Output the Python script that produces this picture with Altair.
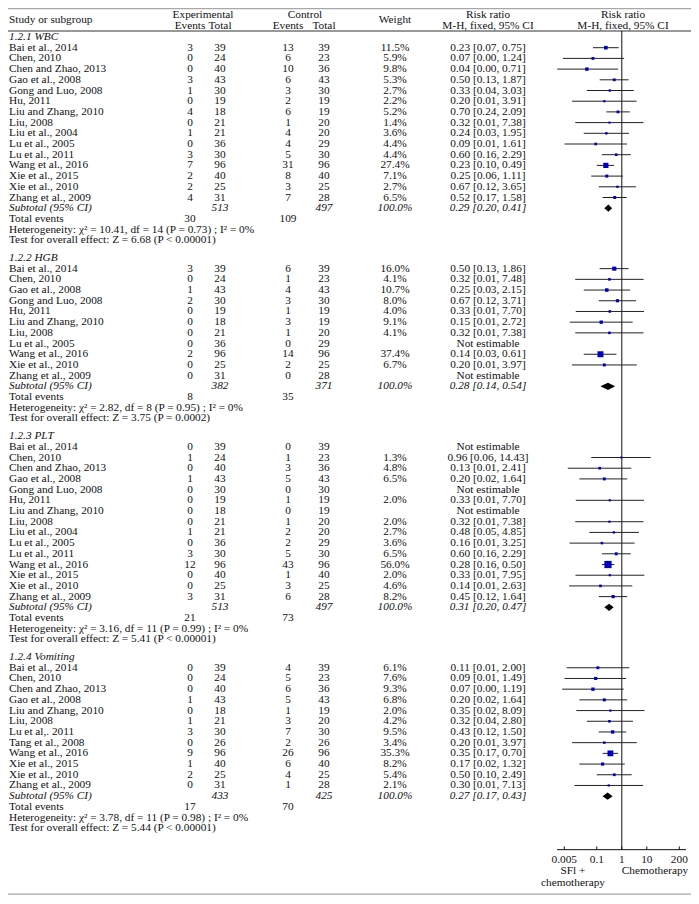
import altair as alt
import pandas as pd

# ------------------------------------------------------------------ data
wbc_names = ["Bai et al., 2014", "Chen, 2010", "Chen and Zhao, 2013", "Gao et al., 2008",
             "Gong and Luo, 2008", "Hu, 2011", "Liu and Zhang, 2010", "Liu, 2008",
             "Liu et al., 2004", "Lu et al., 2005", "Lu et al., 2011", "Wang et al., 2016",
             "Xie et al., 2015", "Xie et al., 2010", "Zhang et al., 2009"]
wbc_e_ev = [3, 0, 0, 3, 1, 0, 4, 0, 1, 0, 3, 7, 2, 2, 4]
wbc_e_tot = [39, 24, 40, 43, 30, 19, 18, 21, 21, 36, 30, 96, 40, 25, 31]
wbc_c_ev = [13, 6, 10, 6, 3, 2, 6, 1, 4, 4, 5, 31, 8, 3, 7]
wbc_c_tot = [39, 23, 36, 43, 30, 19, 19, 20, 20, 29, 30, 96, 40, 25, 28]
wbc_w = [11.5, 5.9, 9.8, 5.3, 2.7, 2.2, 5.2, 1.4, 3.6, 4.4, 4.4, 27.4, 7.1, 2.7, 6.5]
wbc_rr = [0.23, 0.07, 0.04, 0.50, 0.33, 0.20, 0.70, 0.32, 0.24, 0.09, 0.60, 0.23, 0.25, 0.67, 0.52]
wbc_lo = [0.07, 0.0044, 0.0026, 0.13, 0.04, 0.0102, 0.24, 0.0137, 0.03, 0.0051, 0.16, 0.10, 0.06, 0.12, 0.17]
wbc_hi = [0.75, 1.24, 0.71, 1.87, 3.03, 3.91, 2.09, 7.38, 1.95, 1.61, 2.29, 0.49, 1.11, 3.65, 1.58]

hgb_names = ["Bai et al., 2014", "Chen, 2010", "Gao et al., 2008", "Gong and Luo, 2008",
             "Hu, 2011", "Liu and Zhang, 2010", "Liu, 2008", "Lu et al., 2005",
             "Wang et al., 2016", "Xie et al., 2010", "Zhang et al., 2009"]
hgb_e_ev = [3, 0, 1, 2, 0, 0, 0, 0, 2, 0, 0]
hgb_e_tot = [39, 24, 43, 30, 19, 18, 21, 36, 96, 25, 31]
hgb_c_ev = [6, 1, 4, 3, 1, 3, 1, 0, 14, 2, 0]
hgb_c_tot = [39, 23, 43, 30, 19, 19, 20, 29, 96, 25, 28]
hgb_w = [16.0, 4.1, 10.7, 8.0, 4.0, 9.1, 4.1, None, 37.4, 6.7, None]
hgb_rr = [0.50, 0.32, 0.25, 0.67, 0.33, 0.15, 0.32, None, 0.14, 0.20, None]
hgb_lo = [0.13, 0.0137, 0.03, 0.12, 0.0144, 0.0083, 0.0137, None, 0.03, 0.0101, None]
hgb_hi = [1.86, 7.48, 2.15, 3.71, 7.70, 2.72, 7.38, None, 0.61, 3.97, None]

plt_names = ["Bai et al., 2014", "Chen, 2010", "Chen and Zhao, 2013", "Gao et al., 2008",
             "Gong and Luo, 2008", "Hu, 2011", "Liu and Zhang, 2010", "Liu, 2008",
             "Liu et al., 2004", "Lu et al., 2005", "Lu et al., 2011", "Wang et al., 2016",
             "Xie et al., 2015", "Xie et al., 2010", "Zhang et al., 2009"]
plt_e_ev = [0, 1, 0, 1, 0, 0, 0, 0, 1, 0, 3, 12, 0, 0, 3]
plt_e_tot = [39, 24, 40, 43, 30, 19, 18, 21, 21, 36, 30, 96, 40, 25, 31]
plt_c_ev = [0, 1, 3, 5, 0, 1, 0, 1, 2, 2, 5, 43, 1, 3, 6]
plt_c_tot = [39, 23, 36, 43, 30, 19, 19, 20, 20, 29, 30, 96, 40, 25, 28]
plt_w = [None, 1.3, 4.8, 6.5, None, 2.0, None, 2.0, 2.7, 3.6, 6.5, 56.0, 2.0, 4.6, 8.2]
plt_rr = [None, 0.96, 0.13, 0.20, None, 0.33, None, 0.32, 0.48, 0.16, 0.60, 0.28, 0.33, 0.14, 0.45]
plt_lo = [None, 0.06, 0.0069, 0.02, None, 0.0144, None, 0.0137, 0.05, 0.0081, 0.16, 0.16, 0.014, 0.0078, 0.12]
plt_hi = [None, 14.43, 2.41, 1.64, None, 7.70, None, 7.38, 4.85, 3.25, 2.29, 0.50, 7.95, 2.63, 1.64]

vom_names = ["Bai et al., 2014", "Chen, 2010", "Chen and Zhao, 2013", "Gao et al., 2008",
             "Liu and Zhang, 2010", "Liu, 2008", "Lu et al,. 2011", "Tang et al., 2008",
             "Wang et al., 2016", "Xie et al., 2015", "Xie et al., 2010", "Zhang et al., 2009"]
vom_e_ev = [0, 0, 0, 1, 0, 1, 3, 0, 9, 1, 2, 0]
vom_e_tot = [39, 24, 40, 43, 18, 21, 30, 26, 96, 40, 25, 31]
vom_c_ev = [4, 5, 6, 5, 1, 3, 7, 2, 26, 6, 4, 1]
vom_c_tot = [39, 23, 36, 43, 19, 20, 30, 26, 96, 40, 25, 28]
vom_w = [6.1, 7.6, 9.3, 6.8, 2.0, 4.2, 9.5, 3.4, 35.3, 8.2, 5.4, 2.1]
vom_rr = [0.11, 0.09, 0.07, 0.20, 0.35, 0.32, 0.43, 0.20, 0.35, 0.17, 0.50, 0.30]
vom_lo = [0.0062, 0.0051, 0.0041, 0.02, 0.0152, 0.04, 0.12, 0.0101, 0.17, 0.02, 0.10, 0.0128]
vom_hi = [2.00, 1.49, 1.19, 1.64, 8.09, 2.80, 1.50, 3.97, 0.70, 1.32, 2.49, 7.13]

sub_titles = ["1.2.1 WBC", "1.2.2 HGB", "1.2.3 PLT", "1.2.4 Vomiting"]
sub_e_tot = [513, 382, 513, 433]
sub_c_tot = [497, 371, 497, 425]
sub_rr = [0.29, 0.28, 0.31, 0.27]
sub_lo = [0.20, 0.14, 0.20, 0.17]
sub_hi = [0.41, 0.54, 0.47, 0.43]
tot_e = [30, 8, 21, 17]
tot_c = [109, 35, 73, 70]
het_chi = ["10.41", "2.82", "3.16", "3.78"]
het_df = [14, 8, 11, 11]
het_p = ["0.73", "0.95", "0.99", "0.98"]
het_i2 = ["0%", "0%", "0%", "0%"]
test_z = ["6.68", "3.75", "5.41", "5.44"]
test_p = ["< 0.00001", "= 0.0002", "< 0.00001", "< 0.00001"]

axis_ticks = [0.005, 0.1, 1, 10, 200]
axis_labels = ["0.005", "0.1", "1", "10", "200"]

sections = [
    (wbc_names, wbc_e_ev, wbc_e_tot, wbc_c_ev, wbc_c_tot, wbc_w, wbc_rr, wbc_lo, wbc_hi),
    (hgb_names, hgb_e_ev, hgb_e_tot, hgb_c_ev, hgb_c_tot, hgb_w, hgb_rr, hgb_lo, hgb_hi),
    (plt_names, plt_e_ev, plt_e_tot, plt_c_ev, plt_c_tot, plt_w, plt_rr, plt_lo, plt_hi),
    (vom_names, vom_e_ev, vom_e_tot, vom_c_ev, vom_c_tot, vom_w, vom_rr, vom_lo, vom_hi),
]

# ------------------------------------------------------------------ layout (row units)
ROW_PX = 10.7
SECTION_GAP = 1.65
texts = []      # dicts: u, col, text, it
cis = []        # u, lo, hi, rr, w
diam = []       # g, x, ya, yb


def fmt_ci(r, l, h):
    return f"{r:.2f} [{l:.2f}, {h:.2f}]"


u = 0.0
for k, sec in enumerate(sections):
    names, e_ev, e_tot, c_ev, c_tot, w, rr, lo, hi = sec
    texts.append(dict(u=u, col="name", text=sub_titles[k], it=True))
    for i in range(len(names)):
        u += 1
        texts.append(dict(u=u, col="name", text=names[i], it=False))
        texts.append(dict(u=u, col="e_ev", text=str(e_ev[i]), it=False))
        texts.append(dict(u=u, col="e_tot", text=str(e_tot[i]), it=False))
        texts.append(dict(u=u, col="c_ev", text=str(c_ev[i]), it=False))
        texts.append(dict(u=u, col="c_tot", text=str(c_tot[i]), it=False))
        if rr[i] is None:
            texts.append(dict(u=u, col="rr", text="Not estimable", it=False))
        else:
            texts.append(dict(u=u, col="w", text=f"{w[i]:.1f}%", it=False))
            texts.append(dict(u=u, col="rr", text=fmt_ci(rr[i], lo[i], hi[i]), it=False))
            cis.append(dict(u=u, lo=lo[i], hi=hi[i], rr=rr[i], w=w[i]))
    u += 1
    texts.append(dict(u=u, col="name", text="Subtotal (95% CI)", it=True))
    texts.append(dict(u=u, col="e_tot", text=str(sub_e_tot[k]), it=True))
    texts.append(dict(u=u, col="c_tot", text=str(sub_c_tot[k]), it=True))
    texts.append(dict(u=u, col="w", text="100.0%", it=True))
    texts.append(dict(u=u, col="rr", text=fmt_ci(sub_rr[k], sub_lo[k], sub_hi[k]), it=True))
    diam += [dict(g=k, x=sub_lo[k], ya=u, yb=u),
             dict(g=k, x=sub_rr[k], ya=u - 0.34, yb=u + 0.34),
             dict(g=k, x=sub_hi[k], ya=u, yb=u)]
    u += 1
    texts.append(dict(u=u, col="name", text="Total events", it=False))
    texts.append(dict(u=u, col="e_ev", text=str(tot_e[k]), it=False))
    texts.append(dict(u=u, col="c_ev", text=str(tot_c[k]), it=False))
    u += 1
    texts.append(dict(u=u, col="name",
                      text=f"Heterogeneity: χ² = {het_chi[k]}, df = {het_df[k]} (P = {het_p[k]}) ; I² = {het_i2[k]}",
                      it=False))
    u += 1
    texts.append(dict(u=u, col="name",
                      text=f"Test for overall effect: Z = {test_z[k]} (P {test_p[k]})", it=False))
    u += SECTION_GAP

U_HDR_TOP = -2.08
U_HDR_MID = -1.6
U_HDR_BOT = -1.05
U_HDR_LINE = -0.56
U_TOP_LINE = -2.66
U_AXIS = 75.95
U_TICKLAB = 76.9
U_FAV1 = 77.95
U_FAV2 = 79.1
U_BOTTOM = 80.1

headers = [
    (U_HDR_MID, "name", "Study or subgroup"),
    (U_HDR_TOP, "h_exp", "Experimental"),
    (U_HDR_BOT, "e_ev", "Events"),
    (U_HDR_BOT, "e_tot", "Total"),
    (U_HDR_TOP, "h_ctl", "Control"),
    (U_HDR_BOT, "c_ev", "Events"),
    (U_HDR_BOT, "c_tot", "Total"),
    (U_HDR_MID, "w", "Weight"),
    (U_HDR_TOP, "rr", "Risk ratio"),
    (U_HDR_BOT, "rr", "M-H, fixed, 95% CI"),
    (U_HDR_TOP, "plot", "Risk ratio"),
    (U_HDR_BOT, "plot", "M-H, fixed, 95% CI"),
    (U_FAV1, "fav_l", "SFl +"),
    (U_FAV2, "fav_l", "chemotherapy"),
    (U_FAV1, "fav_r", "Chemotherapy"),
]
for hu, col, t in headers:
    texts.append(dict(u=hu, col=col, text=t, it=False))

tdf = pd.DataFrame(texts)
cidf = pd.DataFrame(cis)
ddf = pd.DataFrame(diam)

col_x = {
    "name": (1, "left"), "e_ev": (182, "center"), "e_tot": (212, "center"),
    "c_ev": (280, "center"), "c_tot": (316, "center"), "w": (387, "center"),
    "rr": (480, "center"), "h_exp": (195, "center"), "h_ctl": (297, "center"),
    "plot": (615, "center"), "fav_l": (565, "center"), "fav_r": (647, "center"),
}

W, H = 683, 888
ys = alt.Scale(domain=[0, 80], range=[29, 29 + 80 * ROW_PX], zero=False, nice=False)
xs = alt.Scale(type="log", domain=[0.005, 200], range=[556.3, 671.3], nice=False)
FONT = "Liberation Serif"
FS = 11.3

layers = []
for col, (px, al) in col_x.items():
    for it in (False, True):
        sub = tdf[(tdf.col == col) & (tdf.it == it)]
        if len(sub) == 0:
            continue
        layers.append(
            alt.Chart(sub).mark_text(font=FONT, fontSize=FS, align=al, baseline="middle",
                                     color="#111", fontStyle="italic" if it else "normal")
            .encode(x=alt.value(px), y=alt.Y("u:Q", scale=ys, axis=None), text="text:N")
        )

hl = pd.DataFrame({"u": [U_TOP_LINE, U_BOTTOM], "c": ["a", "b"]})
layers.append(alt.Chart(hl).mark_rule(color="#a8a8a8", strokeWidth=1.2)
              .encode(x=alt.value(0), x2=alt.value(W), y=alt.Y("u:Q", scale=ys, axis=None)))
hl2 = pd.DataFrame({"u": [U_HDR_LINE]})
layers.append(alt.Chart(hl2).mark_rule(color="#333", strokeWidth=1)
              .encode(x=alt.value(0), x2=alt.value(W), y=alt.Y("u:Q", scale=ys, axis=None)))

vl = pd.DataFrame({"x": [1.0], "y1": [U_HDR_LINE], "y2": [U_AXIS]})
layers.append(alt.Chart(vl).mark_rule(color="#111", strokeWidth=1)
              .encode(x=alt.X("x:Q", scale=xs, axis=None),
                      y=alt.Y("y1:Q", scale=ys, axis=None), y2="y2:Q"))

axl = pd.DataFrame({"u": [U_AXIS]})
layers.append(alt.Chart(axl).mark_rule(color="#111", strokeWidth=1)
              .encode(x=alt.value(549), x2=alt.value(678), y=alt.Y("u:Q", scale=ys, axis=None)))
tk = pd.DataFrame({"x": axis_ticks, "lab": axis_labels, "y1": [U_AXIS] * 5, "y2": [U_AXIS - 0.3] * 5,
                   "yl": [U_TICKLAB] * 5})
layers.append(alt.Chart(tk).mark_rule(color="#111", strokeWidth=1)
              .encode(x=alt.X("x:Q", scale=xs, axis=None),
                      y=alt.Y("y1:Q", scale=ys, axis=None), y2="y2:Q"))
layers.append(alt.Chart(tk).mark_text(font=FONT, fontSize=FS, align="center", baseline="middle", color="#111")
              .encode(x=alt.X("x:Q", scale=xs, axis=None),
                      y=alt.Y("yl:Q", scale=ys, axis=None), text="lab:N"))

layers.append(alt.Chart(cidf).mark_rule(color="#222", strokeWidth=1)
              .encode(x=alt.X("lo:Q", scale=xs, axis=None), x2="hi:Q",
                      y=alt.Y("u:Q", scale=ys, axis=None)))
layers.append(alt.Chart(cidf).mark_square(color="#0000c0", opacity=1)
              .encode(x=alt.X("rr:Q", scale=xs, axis=None),
                      y=alt.Y("u:Q", scale=ys, axis=None),
                      size=alt.Size("w:Q", scale=alt.Scale(domain=[0, 56], range=[3, 52]), legend=None)))
layers.append(alt.Chart(ddf).mark_area(color="black", orient="vertical", opacity=1)
              .encode(x=alt.X("x:Q", scale=xs, axis=None),
                      y=alt.Y("ya:Q", scale=ys, axis=None), y2="yb:Q", detail="g:N"))

chart = (alt.layer(*layers)
         .properties(width=W, height=H, padding=0, autosize="none", background="white")
         .configure_view(stroke=None))

chart.save("out.html", embed_options={"renderer": "svg", "actions": False})
